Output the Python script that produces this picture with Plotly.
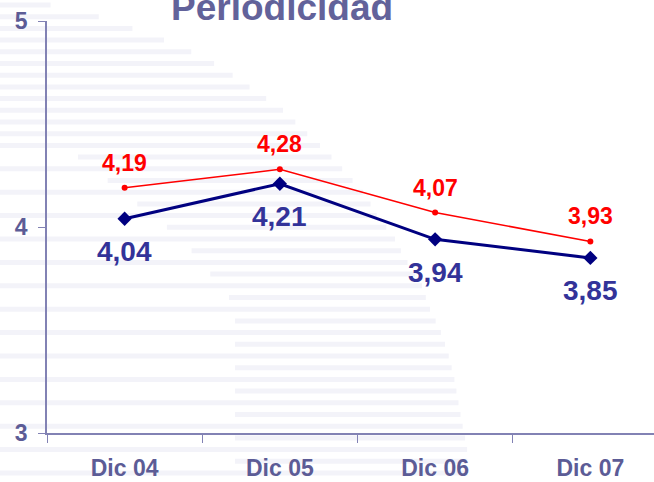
import plotly.graph_objects as go

categories = ["Dic 04", "Dic 05", "Dic 06", "Dic 07"]
red_values = [4.19, 4.28, 4.07, 3.93]
navy_values = [4.04, 4.21, 3.94, 3.85]
y_ticks = [3, 4, 5]
title_text = "Periodicidad"

FONT = "Liberation Sans, Arial, sans-serif"
AXIS_COLOR = "#8282b4"
LABEL_COLOR = "#5c5c96"

W, H = 654, 482
L, R, T, B = 47, 0, 21, 49
PW, PH = W - L - R, H - T - B


def px_x(p):
    return (p - L) / PW


def px_y(p):
    return (H - B - p) / PH


fig = go.Figure()

fig.add_trace(go.Scatter(
    x=categories, y=red_values, mode="lines+markers",
    line=dict(color="#ff0000", width=1.5),
    marker=dict(symbol="circle", size=6, color="#ff0000"),
    hoverinfo="skip", showlegend=False,
))
fig.add_trace(go.Scatter(
    x=categories, y=navy_values, mode="lines+markers",
    line=dict(color="#000080", width=3),
    marker=dict(symbol="diamond", size=11, color="#000080"),
    hoverinfo="skip", showlegend=False,
))

annotations = []
for c, v in zip(categories, red_values):
    annotations.append(dict(
        x=c, y=v, xref="x", yref="y", text=f"{v:.2f}".replace(".", ","),
        showarrow=False, yshift=25,
        font=dict(family=FONT, size=23, color="#ff0000", weight="bold"),
    ))
for c, v in zip(categories, navy_values):
    annotations.append(dict(
        x=c, y=v, xref="x", yref="y", text=f"{v:.2f}".replace(".", ","),
        showarrow=False, yshift=-33,
        font=dict(family=FONT, size=28, color="#333399", weight="bold"),
    ))
annotations.append(dict(
    x=px_x(282), y=px_y(8), xref="paper", yref="paper", text=title_text,
    showarrow=False, xanchor="center", yanchor="middle",
    font=dict(family=FONT, size=37, color="#62629a", weight="bold"),
))

# faint striped watermark in the background
curve = [(0, 30), (17, 100), (30, 137), (42, 169), (53, 194), (65, 217), (78, 237),
         (90, 254), (102, 271), (113, 287), (127, 300), (150, 325), (173, 346),
         (197, 367), (220, 379), (233, 392), (257, 404), (283, 421), (307, 429),
         (330, 440), (353, 448), (377, 454), (400, 458), (423, 462), (447, 467),
         (482, 468)]


def right_edge(y):
    for (y0, x0), (y1, x1) in zip(curve[:-1], curve[1:]):
        if y0 <= y <= y1:
            return x0 + (x1 - x0) * (y - y0) / (y1 - y0)
    return 468


def left_edge(y, k):
    if k % 2 == 0 or y < 150:
        return 0
    if y < 240:
        return 69 + (183 - 69) * (y - 150) / 90
    return min(235, 183 + (y - 240) * 0.8)


shapes = []
k = 0
y = 5
while y < H:
    xl, xr = left_edge(y, k), right_edge(y)
    shapes.append(dict(
        type="rect", xref="paper", yref="paper", layer="below",
        x0=px_x(xl), x1=px_x(xr), y0=px_y(y + 2.5), y1=px_y(y - 2.5),
        fillcolor="#f3f3f9", line=dict(width=0),
    ))
    y += 11.7
    k += 1

fig.update_layout(
    width=W, height=H,
    margin=dict(l=L, r=R, t=T, b=B, pad=0, autoexpand=False),
    paper_bgcolor="white", plot_bgcolor="rgba(0,0,0,0)",
    annotations=annotations, shapes=shapes,
    showlegend=False,
    xaxis=dict(
        type="category", range=[-0.5, 3.41], showgrid=False, zeroline=False,
        automargin=False,
        showline=True, linecolor=AXIS_COLOR, linewidth=1.5,
        ticks="outside", tickson="boundaries", ticklen=8, tickwidth=1.2,
        tickcolor=AXIS_COLOR, ticklabelstandoff=14,
        tickfont=dict(family=FONT, size=23, color=LABEL_COLOR, weight="bold"),
    ),
    yaxis=dict(
        range=[3, 5], tickvals=y_ticks, ticktext=[str(t) for t in y_ticks],
        showgrid=False, zeroline=False, automargin=False,
        showline=True, linecolor=AXIS_COLOR, linewidth=1.5,
        ticks="outside", ticklen=7, tickwidth=1.2, tickcolor=AXIS_COLOR,
        ticklabelstandoff=6,
        tickfont=dict(family=FONT, size=23, color=LABEL_COLOR, weight="bold"),
    ),
)

fig.write_html(
    "out.html",
    config={"displayModeBar": False},
    post_script="document.body.style.margin='0';document.body.style.overflow='hidden';",
)
